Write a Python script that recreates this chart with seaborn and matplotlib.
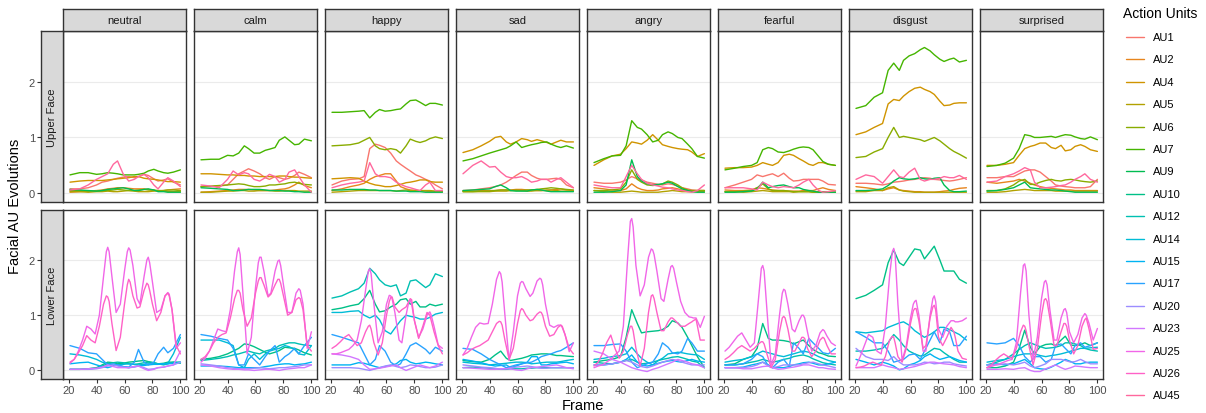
import numpy as np
import pandas as pd
import matplotlib
matplotlib.use("Agg")
import matplotlib.pyplot as plt
import seaborn as sns
from matplotlib.lines import Line2D

# ---------------------------------------------------------------- data
FRAMES = [21, 28, 34, 40, 44, 48, 52, 55, 59, 63, 67, 70, 74, 77, 81, 84, 88, 91, 95, 100]
# finer sampling for the mouth-opening units, which oscillate quickly
FRAMES_FINE = [21, 24, 27, 30, 33, 36, 39, 42, 45, 47, 48, 49, 51, 54, 57, 60, 62, 63, 64,
               66, 69, 71, 74, 76, 77, 78, 80, 83, 86, 89, 91, 92, 94, 97, 100]
EMOTIONS = ["neutral", "calm", "happy", "sad", "angry", "fearful", "disgust", "surprised"]
FACES = ["Upper Face", "Lower Face"]
AU_ORDER = ["AU1", "AU2", "AU4", "AU5", "AU6", "AU7", "AU9", "AU10", "AU12", "AU14",
            "AU15", "AU17", "AU20", "AU23", "AU25", "AU26", "AU45"]
UPPER_AUS = ["AU1", "AU2", "AU4", "AU5", "AU6", "AU7", "AU9", "AU45"]
LOWER_AUS = ["AU10", "AU12", "AU14", "AU15", "AU17", "AU20", "AU23", "AU25", "AU26"]
FINE_AUS = ["AU25", "AU26"]

au1 = {
    "neutral":   [0.08, 0.08, 0.10, 0.15, 0.20, 0.22, 0.25, 0.27, 0.29, 0.30, 0.28, 0.30, 0.34, 0.32, 0.26, 0.22, 0.24, 0.26, 0.20, 0.15],
    "calm":      [0.12, 0.12, 0.13, 0.15, 0.25, 0.35, 0.40, 0.44, 0.40, 0.35, 0.28, 0.25, 0.30, 0.28, 0.25, 0.27, 0.32, 0.38, 0.34, 0.28],
    "happy":     [0.15, 0.22, 0.25, 0.26, 0.30, 0.80, 0.88, 0.86, 0.82, 0.72, 0.58, 0.52, 0.45, 0.40, 0.33, 0.30, 0.25, 0.22, 0.15, 0.08],
    "sad":       [0.05, 0.06, 0.08, 0.10, 0.12, 0.15, 0.20, 0.25, 0.32, 0.38, 0.38, 0.32, 0.27, 0.25, 0.25, 0.26, 0.27, 0.25, 0.15, 0.10],
    "angry":     [0.20, 0.18, 0.18, 0.20, 0.24, 0.30, 0.26, 0.24, 0.20, 0.18, 0.16, 0.15, 0.17, 0.16, 0.13, 0.10, 0.08, 0.06, 0.05, 0.05],
    "fearful":   [0.10, 0.15, 0.20, 0.25, 0.33, 0.30, 0.33, 0.35, 0.30, 0.36, 0.27, 0.22, 0.23, 0.25, 0.25, 0.25, 0.25, 0.22, 0.16, 0.15],
    "disgust":   [0.18, 0.18, 0.17, 0.15, 0.17, 0.20, 0.21, 0.22, 0.24, 0.25, 0.27, 0.28, 0.27, 0.25, 0.24, 0.23, 0.22, 0.23, 0.25, 0.28],
    "surprised": [0.28, 0.28, 0.30, 0.30, 0.35, 0.40, 0.42, 0.42, 0.38, 0.30, 0.22, 0.15, 0.13, 0.12, 0.11, 0.10, 0.10, 0.10, 0.12, 0.25],
}
au2 = {
    "neutral":   [0.02, 0.03, 0.04, 0.05, 0.06, 0.08, 0.09, 0.10, 0.10, 0.09, 0.08, 0.08, 0.08, 0.07, 0.05, 0.04, 0.05, 0.06, 0.07, 0.08],
    "calm":      [0.02, 0.03, 0.04, 0.05, 0.06, 0.07, 0.07, 0.07, 0.06, 0.05, 0.05, 0.05, 0.06, 0.07, 0.08, 0.10, 0.15, 0.20, 0.14, 0.10],
    "happy":     [0.05, 0.08, 0.12, 0.15, 0.18, 0.25, 0.30, 0.32, 0.35, 0.35, 0.22, 0.12, 0.08, 0.06, 0.05, 0.04, 0.04, 0.03, 0.03, 0.03],
    "sad":       [0.04, 0.04, 0.05, 0.05, 0.05, 0.06, 0.06, 0.06, 0.07, 0.07, 0.06, 0.06, 0.05, 0.05, 0.05, 0.06, 0.07, 0.08, 0.06, 0.05],
    "angry":     [0.10, 0.08, 0.06, 0.05, 0.08, 0.17, 0.10, 0.07, 0.05, 0.05, 0.06, 0.08, 0.09, 0.10, 0.08, 0.06, 0.05, 0.05, 0.05, 0.05],
    "fearful":   [0.06, 0.05, 0.05, 0.06, 0.10, 0.09, 0.07, 0.06, 0.05, 0.05, 0.04, 0.04, 0.04, 0.05, 0.05, 0.05, 0.08, 0.10, 0.07, 0.05],
    "disgust":   [0.12, 0.10, 0.08, 0.05, 0.08, 0.10, 0.06, 0.05, 0.04, 0.03, 0.03, 0.02, 0.02, 0.02, 0.03, 0.04, 0.05, 0.07, 0.09, 0.10],
    "surprised": [0.20, 0.18, 0.20, 0.22, 0.25, 0.22, 0.18, 0.15, 0.12, 0.10, 0.09, 0.08, 0.07, 0.06, 0.06, 0.05, 0.05, 0.05, 0.05, 0.05],
}
au4 = {
    "neutral":   [0.20, 0.22, 0.23, 0.23, 0.23, 0.24, 0.25, 0.26, 0.27, 0.28, 0.30, 0.30, 0.27, 0.26, 0.25, 0.24, 0.22, 0.21, 0.21, 0.20],
    "calm":      [0.35, 0.35, 0.34, 0.33, 0.33, 0.32, 0.32, 0.31, 0.31, 0.30, 0.30, 0.30, 0.30, 0.31, 0.31, 0.30, 0.29, 0.29, 0.28, 0.27],
    "happy":     [0.26, 0.27, 0.28, 0.27, 0.22, 0.18, 0.15, 0.14, 0.12, 0.12, 0.14, 0.16, 0.19, 0.20, 0.22, 0.24, 0.24, 0.21, 0.20, 0.20],
    "sad":       [0.73, 0.78, 0.85, 0.93, 1.00, 1.02, 0.92, 0.88, 0.92, 0.98, 0.96, 0.93, 0.96, 0.94, 0.91, 0.88, 0.92, 0.95, 0.92, 0.92],
    "angry":     [0.50, 0.60, 0.67, 0.70, 0.80, 0.92, 0.90, 0.88, 0.95, 1.05, 0.95, 0.87, 0.84, 0.82, 0.80, 0.79, 0.78, 0.74, 0.66, 0.71],
    "fearful":   [0.45, 0.46, 0.46, 0.47, 0.50, 0.55, 0.52, 0.50, 0.55, 0.68, 0.70, 0.68, 0.62, 0.58, 0.52, 0.50, 0.55, 0.55, 0.52, 0.50],
    "disgust":   [1.05, 1.10, 1.18, 1.25, 1.60, 1.68, 1.66, 1.74, 1.82, 1.88, 1.90, 1.86, 1.82, 1.77, 1.65, 1.57, 1.58, 1.61, 1.62, 1.62],
    "surprised": [0.50, 0.50, 0.52, 0.55, 0.68, 0.80, 0.84, 0.86, 0.90, 0.90, 0.82, 0.80, 0.86, 0.76, 0.78, 0.84, 0.87, 0.84, 0.78, 0.75],
}
au5 = {
    "neutral":   [0.03, 0.03, 0.02, 0.03, 0.03, 0.04, 0.03, 0.03, 0.04, 0.05, 0.04, 0.03, 0.03, 0.03, 0.04, 0.05, 0.04, 0.03, 0.03, 0.03],
    "calm":      [0.02, 0.02, 0.03, 0.04, 0.04, 0.05, 0.05, 0.04, 0.04, 0.05, 0.05, 0.05, 0.04, 0.04, 0.05, 0.05, 0.05, 0.04, 0.04, 0.04],
    "happy":     [0.02, 0.03, 0.04, 0.05, 0.05, 0.05, 0.05, 0.05, 0.05, 0.05, 0.04, 0.05, 0.06, 0.05, 0.05, 0.05, 0.05, 0.05, 0.04, 0.03],
    "sad":       [0.03, 0.03, 0.03, 0.03, 0.04, 0.04, 0.04, 0.05, 0.06, 0.05, 0.04, 0.04, 0.05, 0.05, 0.06, 0.06, 0.05, 0.04, 0.04, 0.04],
    "angry":     [0.05, 0.03, 0.02, 0.02, 0.03, 0.04, 0.03, 0.02, 0.02, 0.02, 0.02, 0.03, 0.04, 0.05, 0.04, 0.03, 0.03, 0.03, 0.03, 0.03],
    "fearful":   [0.03, 0.03, 0.02, 0.03, 0.04, 0.05, 0.04, 0.03, 0.03, 0.03, 0.03, 0.02, 0.03, 0.03, 0.03, 0.02, 0.03, 0.03, 0.03, 0.02],
    "disgust":   [0.03, 0.03, 0.05, 0.05, 0.10, 0.12, 0.06, 0.04, 0.03, 0.02, 0.02, 0.02, 0.02, 0.02, 0.02, 0.02, 0.02, 0.02, 0.02, 0.02],
    "surprised": [0.02, 0.02, 0.03, 0.05, 0.06, 0.07, 0.06, 0.05, 0.05, 0.05, 0.05, 0.04, 0.04, 0.04, 0.04, 0.04, 0.04, 0.04, 0.04, 0.04],
}
au6 = {
    "neutral":   [0.05, 0.05, 0.04, 0.04, 0.05, 0.05, 0.06, 0.07, 0.06, 0.05, 0.05, 0.06, 0.07, 0.06, 0.06, 0.05, 0.05, 0.06, 0.06, 0.05],
    "calm":      [0.12, 0.13, 0.14, 0.15, 0.16, 0.17, 0.16, 0.14, 0.12, 0.12, 0.13, 0.15, 0.15, 0.16, 0.17, 0.19, 0.20, 0.18, 0.16, 0.15],
    "happy":     [0.85, 0.86, 0.87, 0.90, 0.95, 1.00, 0.85, 0.80, 0.78, 0.80, 0.78, 0.72, 0.85, 0.97, 0.93, 0.91, 0.94, 0.98, 1.01, 0.98],
    "sad":       [0.03, 0.03, 0.04, 0.04, 0.05, 0.06, 0.06, 0.05, 0.05, 0.05, 0.06, 0.06, 0.07, 0.08, 0.09, 0.10, 0.09, 0.08, 0.07, 0.06],
    "angry":     [0.05, 0.05, 0.06, 0.08, 0.20, 0.42, 0.25, 0.20, 0.15, 0.14, 0.15, 0.17, 0.22, 0.20, 0.15, 0.10, 0.06, 0.05, 0.05, 0.05],
    "fearful":   [0.03, 0.03, 0.04, 0.05, 0.10, 0.17, 0.08, 0.05, 0.05, 0.05, 0.04, 0.03, 0.03, 0.03, 0.03, 0.02, 0.02, 0.02, 0.02, 0.02],
    "disgust":   [0.64, 0.66, 0.74, 0.80, 1.00, 1.18, 1.00, 1.02, 1.00, 0.98, 0.96, 0.93, 0.97, 1.00, 0.94, 0.88, 0.80, 0.75, 0.70, 0.63],
    "surprised": [0.05, 0.05, 0.08, 0.15, 0.22, 0.25, 0.16, 0.16, 0.20, 0.23, 0.25, 0.23, 0.22, 0.24, 0.25, 0.24, 0.22, 0.21, 0.20, 0.22],
}
au7 = {
    "neutral":   [0.33, 0.37, 0.37, 0.34, 0.35, 0.37, 0.36, 0.35, 0.33, 0.33, 0.33, 0.34, 0.36, 0.40, 0.43, 0.40, 0.37, 0.36, 0.38, 0.42],
    "calm":      [0.60, 0.61, 0.61, 0.68, 0.67, 0.72, 0.85, 0.80, 0.72, 0.72, 0.77, 0.79, 0.82, 0.95, 1.01, 0.95, 0.87, 0.88, 0.97, 0.94],
    "happy":     [1.45, 1.45, 1.46, 1.47, 1.48, 1.35, 1.45, 1.50, 1.47, 1.48, 1.50, 1.51, 1.60, 1.66, 1.67, 1.63, 1.57, 1.61, 1.61, 1.58],
    "sad":       [0.58, 0.62, 0.67, 0.72, 0.75, 0.78, 0.81, 0.85, 0.92, 0.82, 0.85, 0.87, 0.89, 0.91, 0.92, 0.88, 0.84, 0.82, 0.85, 0.81],
    "angry":     [0.55, 0.62, 0.67, 0.68, 0.85, 1.30, 1.18, 1.15, 1.05, 0.92, 0.95, 1.05, 1.10, 1.07, 1.00, 0.98, 0.88, 0.80, 0.66, 0.63],
    "fearful":   [0.42, 0.45, 0.48, 0.50, 0.55, 0.78, 0.82, 0.80, 0.74, 0.73, 0.76, 0.79, 0.82, 0.83, 0.82, 0.78, 0.66, 0.57, 0.52, 0.50],
    "disgust":   [1.52, 1.57, 1.72, 1.80, 2.20, 2.33, 2.20, 2.38, 2.46, 2.50, 2.57, 2.61, 2.55, 2.48, 2.40, 2.36, 2.40, 2.42, 2.35, 2.38],
    "surprised": [0.48, 0.50, 0.54, 0.63, 0.80, 1.05, 1.03, 1.00, 1.00, 1.01, 1.02, 1.00, 1.03, 1.05, 1.04, 1.01, 0.98, 0.97, 1.01, 0.96],
}
au9 = {
    "neutral":   [0.07, 0.06, 0.05, 0.04, 0.05, 0.07, 0.08, 0.09, 0.10, 0.08, 0.05, 0.05, 0.07, 0.08, 0.06, 0.03, 0.03, 0.02, 0.02, 0.02],
    "calm":      [0.10, 0.09, 0.08, 0.07, 0.05, 0.05, 0.06, 0.07, 0.07, 0.07, 0.06, 0.05, 0.05, 0.05, 0.04, 0.04, 0.03, 0.03, 0.02, 0.02],
    "happy":     [0.06, 0.06, 0.07, 0.07, 0.07, 0.06, 0.06, 0.05, 0.05, 0.05, 0.04, 0.04, 0.04, 0.03, 0.03, 0.03, 0.02, 0.02, 0.02, 0.02],
    "sad":       [0.05, 0.06, 0.07, 0.08, 0.12, 0.15, 0.10, 0.05, 0.04, 0.04, 0.04, 0.06, 0.07, 0.06, 0.04, 0.03, 0.03, 0.03, 0.03, 0.03],
    "angry":     [0.02, 0.02, 0.03, 0.05, 0.15, 0.60, 0.30, 0.22, 0.17, 0.15, 0.16, 0.17, 0.20, 0.18, 0.12, 0.08, 0.05, 0.03, 0.02, 0.02],
    "fearful":   [0.02, 0.02, 0.03, 0.04, 0.08, 0.20, 0.10, 0.12, 0.14, 0.15, 0.12, 0.10, 0.10, 0.07, 0.05, 0.04, 0.02, 0.02, 0.02, 0.02],
    "disgust":   [0.05, 0.05, 0.06, 0.08, 0.14, 0.22, 0.28, 0.26, 0.25, 0.26, 0.28, 0.26, 0.25, 0.27, 0.28, 0.15, 0.05, 0.03, 0.03, 0.04],
    "surprised": [0.04, 0.05, 0.07, 0.10, 0.15, 0.20, 0.10, 0.09, 0.08, 0.07, 0.06, 0.06, 0.05, 0.04, 0.03, 0.02, 0.02, 0.02, 0.02, 0.02],
}
au45 = {
    "neutral":   [0.06, 0.08, 0.15, 0.25, 0.30, 0.35, 0.52, 0.58, 0.35, 0.22, 0.25, 0.30, 0.34, 0.28, 0.15, 0.08, 0.20, 0.28, 0.22, 0.12],
    "calm":      [0.15, 0.13, 0.10, 0.25, 0.40, 0.33, 0.37, 0.35, 0.25, 0.22, 0.28, 0.34, 0.30, 0.20, 0.25, 0.38, 0.42, 0.30, 0.15, 0.02],
    "happy":     [0.10, 0.15, 0.18, 0.20, 0.22, 0.55, 0.35, 0.30, 0.30, 0.28, 0.20, 0.16, 0.12, 0.10, 0.07, 0.05, 0.15, 0.20, 0.05, 0.05],
    "sad":       [0.35, 0.50, 0.58, 0.47, 0.48, 0.38, 0.30, 0.28, 0.28, 0.30, 0.25, 0.20, 0.22, 0.25, 0.25, 0.20, 0.25, 0.28, 0.20, 0.10],
    "angry":     [0.15, 0.12, 0.10, 0.10, 0.30, 0.50, 0.35, 0.25, 0.18, 0.15, 0.13, 0.11, 0.10, 0.08, 0.06, 0.05, 0.03, 0.02, 0.05, 0.15],
    "fearful":   [0.10, 0.10, 0.10, 0.08, 0.06, 0.20, 0.15, 0.12, 0.10, 0.12, 0.11, 0.10, 0.15, 0.20, 0.25, 0.15, 0.05, 0.02, 0.03, 0.05],
    "disgust":   [0.25, 0.33, 0.30, 0.18, 0.30, 0.42, 0.30, 0.28, 0.38, 0.45, 0.25, 0.22, 0.25, 0.25, 0.27, 0.30, 0.28, 0.28, 0.32, 0.25],
    "surprised": [0.20, 0.22, 0.30, 0.35, 0.40, 0.46, 0.42, 0.20, 0.10, 0.10, 0.11, 0.12, 0.14, 0.15, 0.20, 0.25, 0.30, 0.35, 0.25, 0.20],
}
au10 = {
    "neutral":   [0.02, 0.02, 0.03, 0.05, 0.10, 0.15, 0.14, 0.12, 0.13, 0.15, 0.16, 0.17, 0.18, 0.16, 0.14, 0.12, 0.13, 0.15, 0.15, 0.15],
    "calm":      [0.20, 0.22, 0.25, 0.30, 0.35, 0.40, 0.48, 0.47, 0.43, 0.38, 0.33, 0.30, 0.33, 0.36, 0.42, 0.41, 0.40, 0.37, 0.32, 0.28],
    "happy":     [1.10, 1.13, 1.17, 1.20, 1.30, 1.45, 1.20, 1.06, 1.08, 1.15, 1.20, 1.28, 1.30, 1.20, 1.25, 1.15, 1.15, 1.20, 1.17, 1.20],
    "sad":       [0.18, 0.16, 0.15, 0.20, 0.28, 0.35, 0.22, 0.18, 0.20, 0.22, 0.25, 0.28, 0.29, 0.30, 0.30, 0.29, 0.27, 0.27, 0.26, 0.25],
    "angry":     [0.15, 0.18, 0.20, 0.25, 0.60, 1.10, 0.85, 0.68, 0.70, 0.71, 0.72, 0.74, 0.80, 0.90, 0.86, 0.78, 0.60, 0.45, 0.25, 0.05],
    "fearful":   [0.10, 0.12, 0.20, 0.25, 0.40, 0.85, 0.58, 0.55, 0.55, 0.54, 0.52, 0.48, 0.52, 0.55, 0.45, 0.38, 0.32, 0.30, 0.26, 0.25],
    "disgust":   [1.30, 1.36, 1.45, 1.55, 1.95, 2.18, 1.95, 1.90, 2.05, 2.20, 2.18, 2.02, 2.15, 2.25, 2.00, 1.80, 1.80, 1.80, 1.65, 1.58],
    "surprised": [0.05, 0.05, 0.08, 0.15, 0.40, 0.73, 0.42, 0.30, 0.43, 0.47, 0.48, 0.45, 0.55, 0.62, 0.46, 0.45, 0.47, 0.50, 0.45, 0.50],
}
au12 = {
    "neutral":   [0.02, 0.02, 0.03, 0.04, 0.08, 0.12, 0.14, 0.15, 0.14, 0.12, 0.11, 0.12, 0.14, 0.15, 0.14, 0.12, 0.10, 0.12, 0.15, 0.13],
    "calm":      [0.18, 0.20, 0.22, 0.25, 0.28, 0.30, 0.33, 0.35, 0.32, 0.30, 0.35, 0.37, 0.40, 0.45, 0.48, 0.50, 0.50, 0.48, 0.46, 0.45],
    "happy":     [1.31, 1.35, 1.42, 1.48, 1.58, 1.85, 1.75, 1.64, 1.55, 1.52, 1.55, 1.35, 1.40, 1.62, 1.64, 1.58, 1.50, 1.55, 1.75, 1.70],
    "sad":       [0.05, 0.06, 0.05, 0.04, 0.03, 0.02, 0.02, 0.03, 0.03, 0.03, 0.04, 0.04, 0.05, 0.05, 0.05, 0.05, 0.05, 0.05, 0.05, 0.05],
    "angry":     [0.15, 0.13, 0.12, 0.15, 0.18, 0.20, 0.15, 0.12, 0.13, 0.15, 0.18, 0.20, 0.22, 0.24, 0.25, 0.23, 0.20, 0.17, 0.15, 0.05],
    "fearful":   [0.10, 0.10, 0.12, 0.15, 0.17, 0.20, 0.17, 0.15, 0.17, 0.20, 0.22, 0.25, 0.27, 0.28, 0.25, 0.21, 0.17, 0.14, 0.12, 0.10],
    "disgust":   [0.35, 0.35, 0.37, 0.40, 0.50, 0.65, 0.55, 0.45, 0.35, 0.30, 0.26, 0.28, 0.35, 0.40, 0.38, 0.32, 0.25, 0.20, 0.15, 0.15],
    "surprised": [0.10, 0.15, 0.20, 0.30, 0.38, 0.45, 0.50, 0.47, 0.43, 0.40, 0.41, 0.42, 0.45, 0.50, 0.50, 0.48, 0.45, 0.40, 0.37, 0.35],
}
au14 = {
    "neutral":   [0.30, 0.28, 0.25, 0.20, 0.15, 0.12, 0.10, 0.10, 0.11, 0.12, 0.11, 0.10, 0.11, 0.12, 0.12, 0.12, 0.12, 0.13, 0.30, 0.60],
    "calm":      [0.55, 0.55, 0.55, 0.50, 0.45, 0.10, 0.05, 0.20, 0.30, 0.20, 0.30, 0.35, 0.38, 0.40, 0.45, 0.43, 0.38, 0.30, 0.28, 0.45],
    "happy":     [1.05, 1.05, 1.07, 1.08, 1.00, 0.95, 1.00, 0.92, 0.72, 0.66, 0.80, 0.90, 1.00, 0.98, 0.96, 0.93, 0.93, 0.96, 1.02, 1.05],
    "sad":       [0.15, 0.13, 0.12, 0.10, 0.11, 0.12, 0.13, 0.14, 0.15, 0.15, 0.14, 0.12, 0.13, 0.14, 0.15, 0.15, 0.15, 0.16, 0.18, 0.20],
    "angry":     [0.20, 0.22, 0.25, 0.27, 0.30, 0.42, 0.30, 0.22, 0.15, 0.10, 0.18, 0.22, 0.30, 0.31, 0.33, 0.32, 0.30, 0.29, 0.28, 0.20],
    "fearful":   [0.15, 0.18, 0.20, 0.25, 0.30, 0.35, 0.32, 0.30, 0.27, 0.25, 0.28, 0.30, 0.33, 0.35, 0.33, 0.30, 0.25, 0.22, 0.18, 0.15],
    "disgust":   [0.70, 0.68, 0.70, 0.72, 0.78, 0.82, 0.86, 0.88, 0.82, 0.72, 0.65, 0.60, 0.65, 0.70, 0.78, 0.78, 0.74, 0.70, 0.65, 0.55],
    "surprised": [0.15, 0.18, 0.20, 0.25, 0.28, 0.30, 0.30, 0.30, 0.27, 0.25, 0.27, 0.28, 0.30, 0.32, 0.35, 0.37, 0.40, 0.40, 0.41, 0.42],
}
au15 = {
    "neutral":   [0.12, 0.14, 0.15, 0.10, 0.07, 0.05, 0.08, 0.10, 0.07, 0.05, 0.07, 0.08, 0.09, 0.10, 0.11, 0.11, 0.12, 0.12, 0.13, 0.15],
    "calm":      [0.08, 0.08, 0.08, 0.07, 0.06, 0.05, 0.05, 0.05, 0.05, 0.05, 0.07, 0.08, 0.10, 0.11, 0.12, 0.12, 0.10, 0.11, 0.12, 0.15],
    "happy":     [0.10, 0.10, 0.10, 0.14, 0.13, 0.10, 0.07, 0.05, 0.07, 0.09, 0.12, 0.18, 0.20, 0.15, 0.12, 0.13, 0.15, 0.14, 0.12, 0.10],
    "sad":       [0.20, 0.17, 0.14, 0.10, 0.08, 0.09, 0.10, 0.05, 0.08, 0.12, 0.15, 0.25, 0.25, 0.10, 0.10, 0.12, 0.13, 0.14, 0.15, 0.12],
    "angry":     [0.10, 0.10, 0.12, 0.15, 0.20, 0.28, 0.15, 0.10, 0.08, 0.10, 0.13, 0.15, 0.17, 0.18, 0.16, 0.15, 0.18, 0.20, 0.17, 0.15],
    "fearful":   [0.05, 0.05, 0.06, 0.10, 0.12, 0.15, 0.10, 0.05, 0.05, 0.05, 0.07, 0.10, 0.12, 0.14, 0.15, 0.13, 0.10, 0.10, 0.12, 0.15],
    "disgust":   [0.20, 0.15, 0.10, 0.15, 0.12, 0.08, 0.01, 0.03, 0.10, 0.13, 0.18, 0.25, 0.30, 0.25, 0.20, 0.22, 0.25, 0.22, 0.18, 0.15],
    "surprised": [0.10, 0.12, 0.10, 0.12, 0.16, 0.20, 0.12, 0.05, 0.03, 0.02, 0.06, 0.10, 0.15, 0.20, 0.16, 0.12, 0.12, 0.14, 0.15, 0.15],
}
au17 = {
    "neutral":   [0.45, 0.40, 0.32, 0.30, 0.20, 0.10, 0.12, 0.10, 0.07, 0.06, 0.15, 0.38, 0.15, 0.10, 0.15, 0.30, 0.42, 0.32, 0.40, 0.65],
    "calm":      [0.65, 0.62, 0.58, 0.55, 0.40, 0.10, 0.10, 0.30, 0.20, 0.10, 0.25, 0.35, 0.45, 0.15, 0.25, 0.30, 0.40, 0.30, 0.45, 0.60],
    "happy":     [0.65, 0.60, 0.55, 0.50, 0.30, 0.10, 0.20, 0.45, 0.35, 0.15, 0.08, 0.12, 0.30, 0.45, 0.50, 0.45, 0.38, 0.30, 0.42, 0.35],
    "sad":       [0.40, 0.38, 0.30, 0.20, 0.15, 0.10, 0.05, 0.07, 0.10, 0.12, 0.14, 0.15, 0.20, 0.25, 0.28, 0.30, 0.34, 0.36, 0.42, 0.50],
    "angry":     [0.45, 0.45, 0.47, 0.48, 0.35, 0.15, 0.05, 0.08, 0.12, 0.15, 0.30, 0.50, 0.42, 0.32, 0.30, 0.35, 0.58, 0.50, 0.35, 0.35],
    "fearful":   [0.10, 0.10, 0.12, 0.20, 0.30, 0.25, 0.08, 0.05, 0.15, 0.20, 0.07, 0.50, 0.40, 0.30, 0.58, 0.50, 0.40, 0.32, 0.30, 0.40],
    "disgust":   [0.70, 0.60, 0.50, 0.50, 0.35, 0.15, 0.18, 0.20, 0.28, 0.30, 0.20, 0.35, 0.55, 0.70, 0.50, 0.75, 0.70, 0.45, 0.45, 0.62],
    "surprised": [0.50, 0.48, 0.50, 0.58, 0.45, 0.25, 0.15, 0.25, 0.25, 0.15, 0.20, 0.45, 0.48, 0.40, 0.30, 0.45, 0.50, 0.42, 0.45, 0.50],
}
au20 = {
    "neutral":   [0.02, 0.02, 0.02, 0.03, 0.05, 0.08, 0.10, 0.08, 0.06, 0.05, 0.06, 0.08, 0.05, 0.02, 0.03, 0.05, 0.06, 0.08, 0.10, 0.15],
    "calm":      [0.12, 0.10, 0.08, 0.05, 0.04, 0.03, 0.03, 0.03, 0.04, 0.05, 0.04, 0.03, 0.04, 0.05, 0.05, 0.06, 0.07, 0.08, 0.10, 0.10],
    "happy":     [0.05, 0.05, 0.05, 0.04, 0.02, 0.00, 0.03, 0.05, 0.08, 0.10, 0.07, 0.05, 0.07, 0.10, 0.09, 0.07, 0.05, 0.05, 0.06, 0.10],
    "sad":       [0.10, 0.08, 0.06, 0.05, 0.04, 0.02, 0.03, 0.05, 0.06, 0.07, 0.08, 0.07, 0.05, 0.04, 0.04, 0.05, 0.05, 0.05, 0.05, 0.05],
    "angry":     [0.10, 0.10, 0.12, 0.15, 0.18, 0.15, 0.10, 0.07, 0.05, 0.08, 0.12, 0.15, 0.18, 0.20, 0.18, 0.15, 0.12, 0.10, 0.10, 0.10],
    "fearful":   [0.05, 0.05, 0.05, 0.07, 0.10, 0.15, 0.08, 0.05, 0.07, 0.10, 0.10, 0.10, 0.10, 0.12, 0.14, 0.15, 0.12, 0.10, 0.08, 0.05],
    "disgust":   [0.40, 0.25, 0.20, 0.20, 0.18, 0.25, 0.15, 0.10, 0.10, 0.10, 0.12, 0.15, 0.14, 0.12, 0.13, 0.15, 0.15, 0.12, 0.10, 0.08],
    "surprised": [0.10, 0.10, 0.12, 0.10, 0.12, 0.15, 0.08, 0.05, 0.08, 0.12, 0.20, 0.20, 0.20, 0.18, 0.15, 0.16, 0.20, 0.16, 0.12, 0.12],
}
au23 = {
    "neutral":   [0.02, 0.02, 0.03, 0.04, 0.06, 0.10, 0.07, 0.05, 0.05, 0.05, 0.07, 0.08, 0.03, 0.00, 0.02, 0.05, 0.06, 0.08, 0.10, 0.35],
    "calm":      [0.10, 0.08, 0.05, 0.03, 0.02, 0.02, 0.01, 0.01, 0.00, 0.01, 0.02, 0.02, 0.01, 0.00, 0.02, 0.03, 0.04, 0.05, 0.05, 0.10],
    "happy":     [0.30, 0.28, 0.25, 0.20, 0.10, 0.02, 0.03, 0.04, 0.06, 0.08, 0.10, 0.05, 0.00, 0.03, 0.07, 0.10, 0.07, 0.05, 0.08, 0.15],
    "sad":       [0.05, 0.04, 0.03, 0.02, 0.02, 0.03, 0.03, 0.03, 0.01, 0.00, 0.03, 0.05, 0.06, 0.07, 0.08, 0.09, 0.10, 0.08, 0.05, 0.03],
    "angry":     [0.35, 0.30, 0.20, 0.15, 0.10, 0.05, 0.02, 0.00, -0.02, 0.02, 0.05, 0.08, 0.12, 0.15, 0.20, 0.18, 0.15, 0.12, 0.10, 0.05],
    "fearful":   [0.05, 0.05, 0.03, 0.03, 0.05, 0.07, 0.08, 0.05, 0.02, 0.03, 0.05, 0.06, 0.08, 0.10, 0.10, 0.08, 0.05, 0.05, 0.03, 0.02],
    "disgust":   [0.05, 0.05, 0.05, 0.10, 0.07, 0.05, 0.02, 0.03, 0.05, 0.07, 0.10, 0.12, 0.15, 0.15, 0.13, 0.12, 0.11, 0.10, 0.07, 0.05],
    "surprised": [0.02, 0.02, 0.03, 0.02, 0.04, 0.05, 0.00, -0.02, -0.02, 0.03, 0.07, 0.10, 0.05, 0.02, 0.05, 0.08, 0.07, 0.06, 0.05, 0.05],
}
# AU25 / AU26 use FRAMES_FINE
au25 = {
    "neutral":   [0.13, 0.20, 0.35, 0.55, 0.80, 0.75, 0.66, 1.00, 1.70, 2.15, 2.23, 2.15, 1.70, 1.05, 1.20, 1.80, 2.15, 2.22, 2.18, 1.90, 1.30, 1.20, 1.70, 2.00, 2.05, 1.95, 1.60, 1.05, 1.10, 1.35, 1.41, 1.38, 1.10, 0.40, 0.50],
    "calm":      [0.15, 0.22, 0.35, 0.55, 0.75, 0.72, 0.70, 1.10, 1.80, 2.15, 2.22, 2.10, 1.40, 0.30, 0.60, 1.50, 1.95, 2.05, 2.05, 1.80, 1.35, 1.40, 1.80, 1.98, 2.00, 1.90, 1.55, 1.05, 1.05, 1.40, 1.48, 1.45, 1.20, 0.40, 0.70],
    "happy":     [0.30, 0.30, 0.32, 0.35, 0.38, 0.45, 0.55, 0.90, 1.45, 1.80, 1.84, 1.75, 1.20, 0.50, 0.70, 1.20, 1.36, 1.35, 1.30, 1.05, 0.55, 0.50, 1.00, 1.25, 1.27, 1.20, 0.90, 0.60, 0.75, 1.00, 1.06, 1.00, 0.80, 0.46, 0.40],
    "sad":       [0.28, 0.40, 0.60, 0.78, 0.86, 0.84, 0.85, 1.20, 1.65, 1.79, 1.75, 1.60, 1.00, 0.18, 0.70, 1.35, 1.58, 1.61, 1.60, 1.48, 1.34, 1.40, 1.62, 1.67, 1.65, 1.55, 1.20, 0.82, 0.78, 0.82, 0.82, 0.78, 0.65, 0.34, 0.50],
    "angry":     [0.05, 0.08, 0.10, 0.15, 0.20, 0.28, 0.35, 0.80, 2.00, 2.70, 2.75, 2.60, 1.90, 1.35, 1.55, 2.05, 2.20, 2.18, 2.10, 1.80, 1.30, 1.25, 1.65, 1.88, 1.90, 1.85, 1.60, 1.25, 1.05, 0.97, 0.96, 0.95, 0.95, 0.78, 0.98],
    "fearful":   [0.35, 0.42, 0.52, 0.62, 0.68, 0.55, 0.42, 0.50, 1.30, 1.85, 1.90, 1.80, 1.10, 0.10, 0.30, 1.00, 1.40, 1.47, 1.45, 1.20, 0.75, 0.70, 0.90, 1.00, 1.00, 0.95, 0.70, 0.35, 0.45, 0.68, 0.74, 0.72, 0.62, 0.50, 0.45],
    "disgust":   [0.08, 0.25, 0.45, 0.65, 0.60, 0.35, 0.30, 0.80, 1.70, 2.15, 2.21, 2.10, 1.20, 0.18, 0.45, 0.95, 1.20, 1.25, 1.27, 1.00, 0.35, 0.35, 1.00, 1.30, 1.35, 1.25, 0.75, 0.60, 0.80, 0.90, 0.90, 0.88, 0.88, 0.90, 0.95],
    "surprised": [0.05, 0.07, 0.10, 0.12, 0.15, 0.18, 0.20, 0.50, 1.40, 1.90, 1.93, 1.80, 1.00, 0.20, 0.60, 1.30, 1.60, 1.63, 1.55, 1.10, 0.55, 0.55, 0.95, 1.10, 1.12, 1.05, 0.70, 0.50, 0.65, 0.95, 1.03, 1.00, 0.85, 0.55, 0.76],
}
au26 = {
    "neutral":   [0.15, 0.20, 0.32, 0.45, 0.63, 0.55, 0.50, 0.80, 1.20, 1.35, 1.33, 1.25, 0.85, 0.36, 0.60, 1.20, 1.55, 1.65, 1.60, 1.35, 1.13, 1.15, 1.45, 1.58, 1.55, 1.45, 1.20, 0.90, 1.05, 1.35, 1.40, 1.35, 1.10, 0.45, 0.30],
    "calm":      [0.20, 0.25, 0.35, 0.50, 0.60, 0.65, 0.68, 0.95, 1.30, 1.45, 1.45, 1.40, 1.10, 0.80, 0.95, 1.40, 1.62, 1.68, 1.68, 1.55, 1.33, 1.38, 1.55, 1.65, 1.65, 1.58, 1.35, 1.00, 1.05, 1.28, 1.32, 1.30, 1.10, 0.45, 0.35],
    "happy":     [0.40, 0.45, 0.52, 0.60, 0.65, 0.55, 0.45, 0.50, 0.70, 0.80, 0.82, 0.75, 0.50, 0.28, 0.50, 1.00, 1.25, 1.32, 1.33, 1.15, 1.05, 1.10, 1.15, 1.25, 1.30, 1.28, 0.90, 0.58, 0.80, 1.05, 1.00, 0.90, 0.70, 0.45, 0.30],
    "sad":       [0.28, 0.32, 0.38, 0.42, 0.45, 0.50, 0.55, 0.70, 0.85, 0.89, 0.88, 0.82, 0.55, 0.20, 0.40, 0.85, 1.08, 1.12, 1.10, 1.00, 0.90, 0.92, 1.02, 1.06, 1.05, 1.00, 0.80, 0.62, 0.65, 0.78, 0.82, 0.80, 0.65, 0.40, 0.30],
    "angry":     [0.08, 0.15, 0.30, 0.50, 0.64, 0.40, 0.22, 0.35, 0.65, 0.80, 0.80, 0.72, 0.40, 0.08, 0.40, 1.05, 1.35, 1.37, 1.30, 1.05, 0.72, 0.72, 0.88, 0.95, 0.95, 0.93, 0.88, 0.80, 0.80, 0.85, 0.88, 0.90, 0.93, 0.55, 0.55],
    "fearful":   [0.20, 0.25, 0.32, 0.40, 0.45, 0.40, 0.35, 0.40, 0.48, 0.52, 0.52, 0.48, 0.30, 0.05, 0.20, 0.70, 0.95, 0.98, 0.95, 0.75, 0.35, 0.35, 0.50, 0.60, 0.60, 0.58, 0.40, 0.25, 0.35, 0.55, 0.60, 0.58, 0.45, 0.30, 0.30],
    "disgust":   [0.05, 0.06, 0.08, 0.12, 0.15, 0.12, 0.10, 0.25, 0.55, 0.62, 0.60, 0.50, 0.25, 0.15, 0.40, 0.85, 1.08, 1.12, 1.12, 0.90, 0.40, 0.45, 0.95, 1.15, 1.18, 1.10, 0.60, 0.45, 0.60, 0.78, 0.70, 0.60, 0.35, 0.22, 0.20],
    "surprised": [0.05, 0.10, 0.18, 0.25, 0.30, 0.25, 0.22, 0.40, 0.70, 0.82, 0.80, 0.72, 0.45, 0.10, 0.40, 1.00, 1.28, 1.30, 1.25, 0.95, 0.45, 0.45, 0.70, 0.85, 0.85, 0.80, 0.55, 0.30, 0.45, 0.80, 0.92, 0.95, 0.75, 0.38, 0.40],
}

AU_TABLES = {
    "AU1": au1, "AU2": au2, "AU4": au4, "AU5": au5, "AU6": au6, "AU7": au7,
    "AU9": au9, "AU10": au10, "AU12": au12, "AU14": au14, "AU15": au15,
    "AU17": au17, "AU20": au20, "AU23": au23, "AU25": au25, "AU26": au26,
    "AU45": au45,
}

rows = []
for au, table in AU_TABLES.items():
    face = "Upper Face" if au in UPPER_AUS else "Lower Face"
    frames = FRAMES_FINE if au in FINE_AUS else FRAMES
    for emo in EMOTIONS:
        for f, v in zip(frames, table[emo]):
            rows.append({"AU": au, "Face": face, "Emotion": emo, "Frame": f, "Value": v})
df = pd.DataFrame(rows)


# ------------------------------------------------------- ggplot hue palette
def hcl_hex(h, c=100.0, l=65.0):
    hr = np.deg2rad(h)
    U, V = c * np.cos(hr), c * np.sin(hr)
    Xn, Yn, Zn = 95.047, 100.0, 108.883
    Y = Yn * ((l + 16) / 116) ** 3
    den = Xn + 15 * Yn + 3 * Zn
    un, vn = 4 * Xn / den, 9 * Yn / den
    u = U / (13 * l) + un
    v = V / (13 * l) + vn
    X = 9.0 * Y * u / (4 * v)
    Z = -X / 3 - 5 * Y + 3 * Y / v
    X, Y, Z = X / 100, Y / 100, Z / 100
    rgb = np.array([
        3.240479 * X - 1.537150 * Y - 0.498535 * Z,
        -0.969256 * X + 1.875992 * Y + 0.041556 * Z,
        0.055648 * X - 0.204043 * Y + 1.057311 * Z,
    ])
    rgb = np.where(rgb > 0.0031308, 1.055 * np.abs(rgb) ** (1 / 2.4) - 0.055, 12.92 * rgb)
    rgb = np.clip(rgb, 0, 1)
    return "#%02x%02x%02x" % tuple(int(round(x * 255)) for x in rgb)


hues = np.linspace(15, 375, len(AU_ORDER) + 1)[:-1]
PALETTE = {au: hcl_hex(h) for au, h in zip(AU_ORDER, hues)}

# ------------------------------------------------------------------ figure
sns.set_style("white")
plt.rcParams["font.family"] = ["Liberation Sans", "DejaVu Sans"]

W, H = 1206, 414
fig = plt.figure(figsize=(W / 100, H / 100), dpi=100)


def rect(x0, y0, x1, y1):
    return [x0 / W, 1 - y1 / H, (x1 - x0) / W, (y1 - y0) / H]


BORDER = "#333333"
TXT = "#4D4D4D"
STRIP = "#D9D9D9"
YLIM = (-0.155, 2.905)
XLIM = (16.0, 104.0)
ROW_Y = [(32, 203), (211, 380)]
PANEL_W, COL_STEP, X0 = 123, 131, 63

for r, face in enumerate(FACES):
    y0, y1 = ROW_Y[r]
    aus = UPPER_AUS if r == 0 else LOWER_AUS
    for c, emo in enumerate(EMOTIONS):
        x0 = X0 + c * COL_STEP
        ax = fig.add_axes(rect(x0, y0, x0 + PANEL_W, y1))
        sub = df[(df["Face"] == face) & (df["Emotion"] == emo)]
        sns.lineplot(data=sub, x="Frame", y="Value", hue="AU",
                     hue_order=[a for a in AU_ORDER if a in aus],
                     palette=PALETTE, estimator=None, sort=False,
                     legend=False, linewidth=1.0, solid_joinstyle="round",
                     solid_capstyle="round", ax=ax)
        ax.set_xlim(*XLIM)
        ax.set_ylim(*YLIM)
        ax.set_yticks([0, 1, 2])
        ax.set_xticks([20, 40, 60, 80, 100])
        ax.yaxis.grid(True, color="#EBEBEB", linewidth=0.8)
        ax.xaxis.grid(False)
        ax.set_axisbelow(True)
        ax.set_xlabel("")
        ax.set_ylabel("")
        for s in ax.spines.values():
            s.set_color(BORDER)
            s.set_linewidth(1.0)
        ax.tick_params(axis="y", left=False, labelleft=False)
        if r == 1:
            ax.tick_params(axis="x", bottom=True, labelbottom=True, length=2.75,
                           width=0.8, color=BORDER, labelcolor=TXT, labelsize=8, pad=1.5)
        else:
            ax.tick_params(axis="x", bottom=False, labelbottom=False)

        if r == 0:
            sax = fig.add_axes(rect(x0, 10, x0 + PANEL_W, 32))
            sax.set_facecolor(STRIP)
            sax.set_xticks([])
            sax.set_yticks([])
            for s in sax.spines.values():
                s.set_color(BORDER)
                s.set_linewidth(1.0)
            sax.text(0.5, 0.5, emo, ha="center", va="center", fontsize=8,
                     color="#1A1A1A", transform=sax.transAxes)

    # row strip carrying the y axis
    lax = fig.add_axes(rect(41, y0, 63, y1))
    lax.set_facecolor(STRIP)
    lax.set_ylim(*YLIM)
    lax.set_xticks([])
    lax.set_yticks([0, 1, 2])
    lax.set_yticklabels(["0", "1", "2"])
    lax.tick_params(axis="y", left=True, length=2.75, width=0.8, color=BORDER,
                    labelcolor=TXT, labelsize=8, pad=1.5)
    for s in lax.spines.values():
        s.set_color(BORDER)
        s.set_linewidth(1.0)
    lax.text(0.5, 0.5, face, rotation=90, ha="center", va="center", fontsize=8,
             color="#1A1A1A", transform=lax.transAxes)

# axis titles
fig.text((X0 + X0 + 7 * COL_STEP + PANEL_W) / 2 / W, 1 - 406 / H, "Frame",
         ha="center", va="center", fontsize=10.5, color="black")
fig.text(15 / W, 1 - 206 / H, "Facial AU Evolutions", rotation=90,
         ha="center", va="center", fontsize=10.5, color="black")

# legend
fig.text(1123 / W, 1 - 14 / H, "Action Units", ha="left", va="center",
         fontsize=10, color="black")
for k, au in enumerate(AU_ORDER):
    yy = 1 - (38 + k * 22.4) / H
    fig.add_artist(Line2D([1126 / W, 1144 / W], [yy, yy], color=PALETTE[au],
                          linewidth=1.0, transform=fig.transFigure))
    fig.text(1153 / W, yy, au, ha="left", va="center", fontsize=8, color="black")

fig.savefig("out.png", dpi=100)
